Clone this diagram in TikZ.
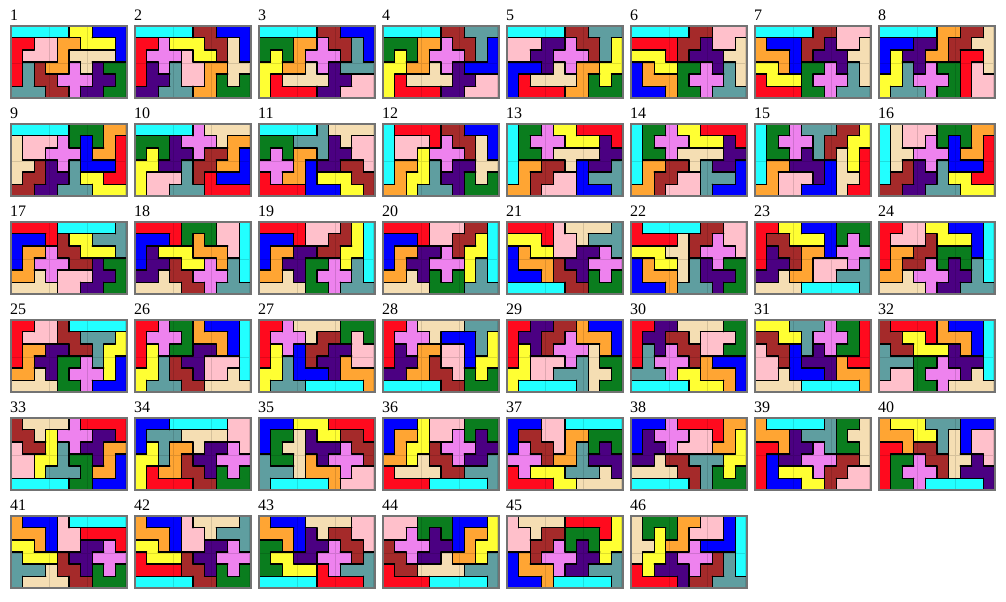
\documentclass[tikz,border=0pt]{standalone}
\usepackage{fontspec}
\setmainfont{Liberation Serif}

% piece colours (one letter per piece)
\definecolor{colc}{HTML}{22FFFF}
\definecolor{colv}{HTML}{EE82EE}
\definecolor{colp}{HTML}{FFC0CB}
\definecolor{colr}{HTML}{FF0A1E}
\definecolor{coly}{HTML}{FFFF33}
\definecolor{colb}{HTML}{0000FF}
\definecolor{colg}{HTML}{0A7D1E}
\definecolor{colo}{HTML}{FFA533}
\definecolor{colw}{HTML}{F5DEB3}
\definecolor{colm}{HTML}{A52A2A}
\definecolor{coli}{HTML}{4B0082}
\definecolor{colt}{HTML}{5F9EA0}

\tikzset{
  tile number/.style={anchor=base west, inner sep=0pt, font=\fontsize{12}{14}\selectfont},
  cell grid/.style={black, opacity=0.13, line width=0.45pt},
  piece edge/.style={black, line width=0.95pt, line cap=round},
  tile frame/.style={black!55, line width=1.4pt}
}

% store one row of letters as \cell<x>-<y>
\newcount\cellx
\newcommand{\storerow}[2]{\cellx=0 \def\currow{#1}\readcell#2\relax}
\def\readcell#1{%
  \ifx#1\relax\else
    \expandafter\xdef\csname cell\the\cellx-\currow\endcsname{#1}%
    \advance\cellx by 1\relax
    \expandafter\readcell
  \fi}

% one 10x6 solution: number, then six rows
\newcommand{\tiling}[7]{%
  \pgfmathtruncatemacro\tilecol{mod(#1-1,8)}%
  \pgfmathtruncatemacro\tilerow{div(#1-1,8)}%
  \storerow{0}{#2}\storerow{1}{#3}\storerow{2}{#4}%
  \storerow{3}{#5}\storerow{4}{#6}\storerow{5}{#7}%
  \begin{scope}[shift={(11+124*\tilecol,25.7+98*\tilerow)}, x=8.7pt, y=-9.075pt]
    \node[tile number] (num#1) at (-0.1,-0.47) {#1};
    % cells
    \foreach \px in {0,...,9}
      \foreach \py in {0,...,5}{
        \edef\cellcol{col\csname cell\px-\py\endcsname}%
        \fill[\cellcol] (\px,\py) rectangle ++(1,1);
      }
    \draw[cell grid] (0,0) grid (10,6);
    % vertical edges between pieces
    \foreach \px [count=\nx] in {0,...,8}
      \foreach \py in {0,...,5}{
        \edef\cella{\csname cell\px-\py\endcsname}%
        \edef\cellb{\csname cell\nx-\py\endcsname}%
        \ifx\cella\cellb\else\draw[piece edge] (\nx,\py) -- ++(0,1);\fi
      }
    % horizontal edges between pieces
    \foreach \px in {0,...,9}
      \foreach \py [count=\ny] in {0,...,4}{
        \edef\cella{\csname cell\px-\py\endcsname}%
        \edef\cellb{\csname cell\px-\ny\endcsname}%
        \ifx\cella\cellb\else\draw[piece edge] (\px,\ny) -- ++(1,0);\fi
      }
    \draw[tile frame] (0,0) rectangle (10,6);
  \end{scope}}

\begin{document}
\begin{tikzpicture}[x=0.75pt, y=-0.75pt]
  \useasboundingbox (0,0) rectangle (1006,601);
  % Row 1
  \tiling{1}{cccccyybbb}{rrppooyyyb}{rpppowwwwb}{rtmoovwigg}{rtmmvvviig}{tttmmviigg}
  \tiling{2}{cccccmmbbb}{rrvyyymmwb}{rvvvpyymwb}{rivtppooww}{riitppogwg}{iitttooggg}
  \tiling{3}{cccccmmbbb}{gggoovmmtb}{gygovvvmtb}{yyoowvittt}{yrwwwwiipp}{yrrrriippp}
  \tiling{4}{cccccmmttt}{gggoovmmtb}{gygovvvmtb}{yyoowvibbb}{yrwwwwiipp}{yrrrriippp}
  \tiling{5}{cccccmmttt}{pppiivmmty}{ppiivvvmty}{bbbiwvooyy}{brwwwwogyg}{brrrrooggg}
  \tiling{6}{cccccmmppp}{rrrrmmippw}{yyyrmiiiww}{boyyggvitw}{booogvvvtw}{bbboggvttt}
  \tiling{7}{cccccmmppp}{obbbmmippw}{ooobmiiiww}{yyobggvitw}{ryyygvvvtw}{rrrrggvttt}
  \tiling{8}{cccccoommw}{bbbiiommww}{byiioomrrw}{bytivggrpw}{yytvvvgrpp}{ytttvggrpp}
  % Row 2
  \tiling{9}{cccccgggoo}{wpppvgbgor}{wppvvvboor}{wwmivtbbbr}{wmmiityyrr}{mmiitttyyy}
  \tiling{10}{cccccvwwww}{gggivvvwoo}{gygiivmmob}{yyiitmmoob}{yppptmrbbb}{ypptttrrrr}
  \tiling{11}{ccccctwwww}{gggtttiwpp}{gvgootiipp}{vvvobiimmp}{rvoobyyymm}{rrrrbbbyym}
  \tiling{12}{crrrrmmbbb}{cppprvmmwb}{cppyvvvmwb}{cooytviiww}{coyytiigwg}{ooytttiggg}
  \tiling{13}{cggvyyrrrr}{cgvvvyyyir}{cggvwwwwii}{coommwbiit}{commppbttt}{oompppbbbt}
  \tiling{14}{cggvyyrrrr}{cgvvvyyyir}{cggvwwwwii}{coommwtiib}{commpptttb}{oomppptbbb}
  \tiling{15}{cggvtttmmy}{cgvvvtmmyy}{cggvitmwyr}{cooiiibwyr}{copppibwwr}{ooppbbbwrr}
  \tiling{16}{cwpppgggoo}{cwppvgbgor}{cwwvvvboor}{cwmivtbbbr}{cmmiityyrr}{mmiitttyyy}
  % Row 3
  \tiling{17}{rrrrccccct}{bbbrmyyttt}{boovmmyyyt}{bovvvmmigg}{oowvpppiig}{wwwwppiigg}
  \tiling{18}{rrrrgggppc}{bbbrgogppc}{biyyyooopc}{biimyyvotc}{iiwmmvvvtc}{wwwwmmvttt}
  \tiling{19}{rrrrpppmyc}{bbbrppmmyc}{booiimmyyc}{boiiggvytc}{oowigvvvtc}{wwwwggvttt}
  \tiling{20}{rrrrpppmmc}{bbbrppmmyc}{booiivmyyc}{boiivvvytc}{oowigvgytc}{wwwwgggttt}
  \tiling{21}{rrrrpwwwwt}{yyyrppwttt}{boyyppiivt}{booomiivvv}{bbbommigvg}{cccccmmggg}
  \tiling{22}{rcccccmmpp}{rrrrwmmvpp}{yyywwmvvvp}{boyywtivgg}{booowtiiig}{bbbotttigg}
  \tiling{23}{rryybbbggg}{rmmyyybgvg}{rimmoobvvv}{riimopppvt}{iiwooppttt}{wwwwccccct}
  \tiling{24}{rrppyybbbc}{rpppmyyybc}{roommgggbc}{rommvgigtc}{oowvvviitc}{wwwwviittt}
  % Row 4
  \tiling{25}{rrppmccccc}{rpppmmttty}{rooiimmtyy}{roiiggvtyb}{oowigvvvyb}{wwwwggvbbb}
  \tiling{26}{rrvggobbbc}{rvvvgooobc}{ryvggiiobc}{rytmiipppc}{yytmmippwc}{ytttmmwwww}
  \tiling{27}{rrvwwwwggg}{rvvvwmmgpg}{ryvbmmiipp}{rytbmiiopp}{yytbbbiooo}{ytttccccco}
  \tiling{28}{rrvwwwwttt}{rvvvwbbbty}{rivooppbty}{riiomppbyy}{iioommpgyg}{cccccmmggg}
  \tiling{29}{rriimmobbb}{riimmvooob}{ryimvvvwob}{rypppvtwgg}{yypptttwwg}{yccccctwgg}
  \tiling{30}{rriiwwwwgg}{riimmwpppg}{rtivmmppgg}{rtvvvmobbb}{tttvyyooob}{cccccyyyob}
  \tiling{31}{yyytttvggr}{mmyytvvvgr}{pmmbtivggr}{ppmbiiiorr}{ppwbbbiooo}{wwwwccccco}
  \tiling{32}{mrrrrobbbc}{mmyyrooobc}{tmmyyyiobc}{tttggviiic}{tppgvvviwc}{pppggvwwww}
  % Row 5
  \tiling{33}{mwwwwvrrrr}{mmwyvvviir}{pmmytviioo}{ppyytggiob}{ppytttgoob}{cccccggbbb}
  \tiling{34}{bbbcccccpp}{btttwwwwpp}{bytoowiivp}{yytomiivvv}{yroommigvg}{yrrrrmmggg}
  \tiling{35}{bbbyyyrrrr}{bggwiyymmr}{bgwwiiivmm}{tggwoivvvm}{tttwooovpp}{tcccccoppp}
  \tiling{36}{bbbypppggg}{booyppvgig}{boyymvvvii}{ooywmmviit}{rwwwwmmttt}{rrrrccccct}
  \tiling{37}{bbbppccccc}{bmmppooggg}{bvmmpotgig}{vvvmootiii}{rvyyytttwi}{rrrryywwww}
  \tiling{38}{bbbvrrrroo}{bivvvpproy}{biivpppooy}{iiwmmtttyy}{wwwwmmtgyg}{cccccmtggg}
  \tiling{39}{occccctggw}{oooitttgww}{rroiivtggw}{rbiivvvmmw}{rbyyyvmmpp}{rbbbyymppp}
  \tiling{40}{oyyytttbbb}{oooyytwbpp}{rrommtwbpp}{rggvmmwwip}{rgvvvmwiii}{rggvccccci}
  % Row 6
  \tiling{41}{obbbpccccc}{ooobpprrrr}{yyobppiivr}{tyyymiivvv}{tttwmmigvg}{twwwwmmggg}
  \tiling{42}{obbbpwwwwt}{ooobppwttt}{yyobppiivt}{ryyymiivvv}{rrrrmmigvg}{cccccmmggg}
  \tiling{43}{obbbwwwwpp}{ooobiwmmpp}{ggobiivmmp}{gyyiivvvmt}{ggyyyrvttt}{cccccrrrrt}
  \tiling{44}{pppgggbbby}{ppvgigbooy}{mvvviiboyy}{mmviiwooyt}{rmmwwwwttt}{rrrrccccct}
  \tiling{45}{pwwwwrrrry}{ppwmmgggry}{ppmmvgigyy}{bomvvviiyt}{boooviittt}{bbboccccct}
  \tiling{46}{wgggooppbc}{wgygopppbc}{wwyoovbbbc}{wyyivvvmtc}{ryiiivmmtc}{rrrrimmttt}
\end{tikzpicture}
\end{document}
